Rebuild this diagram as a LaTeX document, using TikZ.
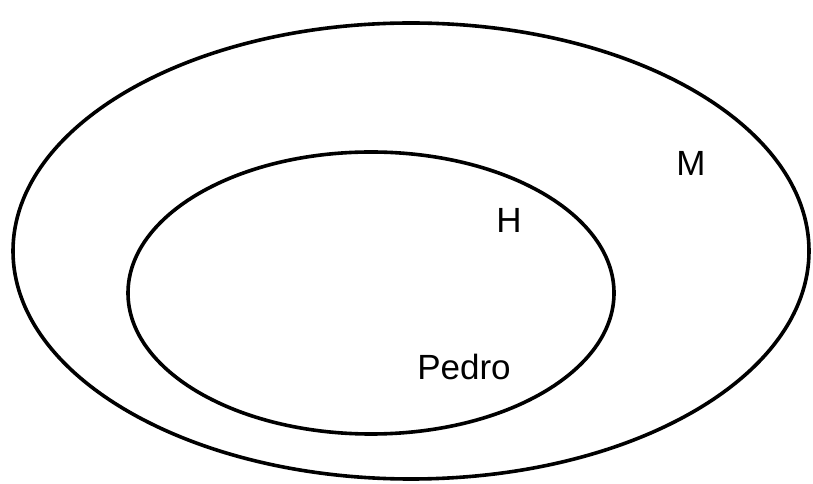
\documentclass[tikz,border=0pt]{standalone}
\usepackage{fontspec}
\setmainfont{Liberation Sans}
\usetikzlibrary{shapes.geometric}
\begin{document}
\begin{tikzpicture}[x=1pt,y=1pt,
  setline/.style={line width=3.6pt,draw=black},
  lbl/.style={font=\fontsize{35}{35}\selectfont,inner sep=0pt}]
\useasboundingbox (0,0) rectangle (813,484);
\node[setline,ellipse,minimum width=796,minimum height=456,inner sep=0pt] (M) at (411,233) {};
\node[setline,ellipse,minimum width=486,minimum height=282,inner sep=0pt] (H) at (371,191) {};
\node[lbl] (lm) at (691,321) {M};
\node[lbl] (lh) at (509,264) {H};
\node[lbl,anchor=base] (lp) at (464,104) {Pedro};
\end{tikzpicture}
\end{document}
